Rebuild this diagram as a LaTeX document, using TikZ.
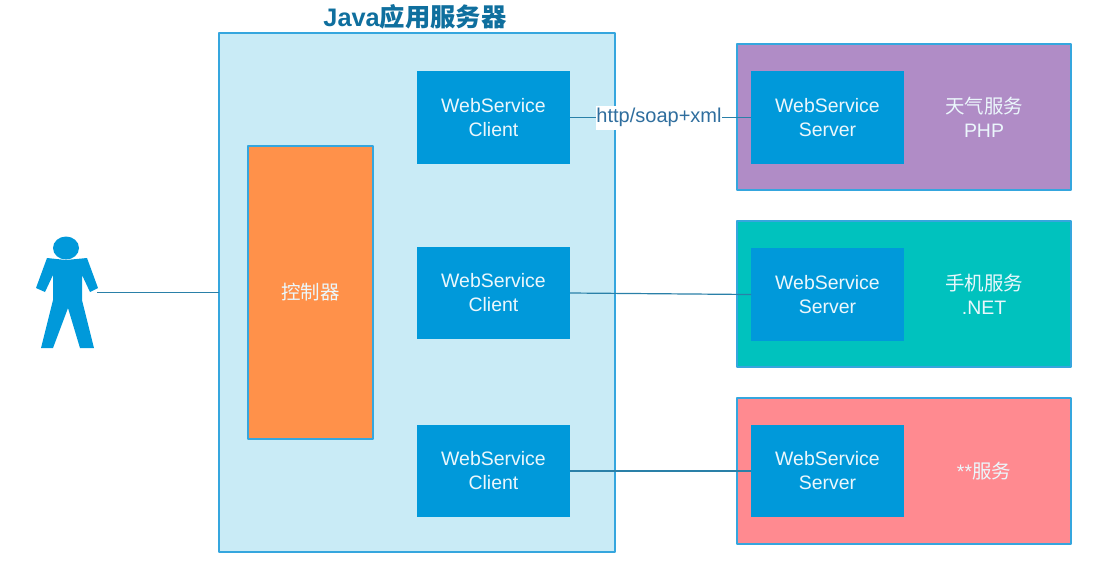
\documentclass[tikz,border=0pt]{standalone}
\usepackage{fontspec}
\setmainfont{Liberation Sans}
\newfontfamily\cjk{Noto Sans CJK SC}
\definecolor{linecol}{HTML}{2A80A8}
\definecolor{edgecol}{HTML}{35A6DE}
\definecolor{bluecol}{HTML}{0099DA}
\definecolor{palecol}{HTML}{C9EBF6}
\definecolor{orangecol}{HTML}{FF914A}
\definecolor{purplecol}{HTML}{B08CC6}
\definecolor{tealcol}{HTML}{00C2BE}
\definecolor{pinkcol}{HTML}{FF8A90}
\definecolor{titlecol}{HTML}{0F6F9E}
\definecolor{labelcol}{HTML}{2F6E9E}
\tikzset{
  base/.style={outer sep=0pt, inner sep=0pt, align=center, text=white!92!bluecol,
    font=\fontsize{14.6}{18}\selectfont},
  wsbox/.style={base, fill=bluecol, minimum width=114.75pt, minimum height=69.5pt},
  servicebox/.style={base, draw=edgecol, line width=0.9pt, minimum width=250.5pt, minimum height=109.5pt},
  link/.style={draw=linecol, line width=0.9pt}
}
\begin{document}
\begin{tikzpicture}[x=0.75pt, y=-0.75pt, line join=round]
\useasboundingbox (0,0) rectangle (1095,569);
% java server
\node[base, draw=edgecol, line width=0.9pt, fill=palecol, minimum width=297pt, minimum height=389.25pt] (java) at (417,292.5) {};
\node[font=\fontsize{19}{22}\selectfont\bfseries, text=titlecol, inner sep=0pt] (javatitle) at (415,17) {Java{\cjk 应用服务器}};
\node[base, draw=edgecol, line width=0.9pt, fill=orangecol, minimum width=93.75pt, minimum height=219.75pt] (ctrl) at (310.5,292.5) {\cjk 控制器};
% services
\node[servicebox, fill=purplecol] (svc1) at (904,117) {};
\node[servicebox, fill=tealcol] (svc2) at (904,294) {};
\node[servicebox, fill=pinkcol] (svc3) at (904,471) {};
\node[base] (svctext1) at (984,117) {{\cjk 天气服务}\\PHP};
\node[base] (svctext2) at (984,294) {{\cjk 手机服务}\\.NET};
\node[base] (svctext3) at (984,471) {**{\cjk 服务}};
% client and server boxes
\foreach \i/\yl/\yr in {1/117.5/117.5,2/293/294.5,3/471/471}{
  \node[wsbox] (client\i) at (493.5,\yl) {WebService\\Client};
  \node[wsbox] (server\i) at (827.5,\yr) {WebService\\Server};
}
% person
\fill[bluecol] (66,248) ellipse (13 and 11.5);
\fill[bluecol] (47,258)--(66,260)--(87,258)--(98,288)--(90,292)--(82,275)--(82,300)--(94,348)--(80,348)
  --(68,308)--(53,348)--(41,348)--(53,300)--(53,275)--(45,292)--(36,288)--cycle;
\coordinate (hand) at (97,292.5);
% connectors
\node[fill=white, text=labelcol, font=\fontsize{15}{18}\selectfont, inner sep=0pt, minimum width=94.5pt, minimum height=18pt] (soap) at (659,117.5) {http/soap+xml};
\draw[link] (hand)--(java.west);
\draw[link] (client1.east)--(soap.west) (soap.east)--(server1.west);
\draw[link] (client2.east)--(server2.west);
\draw[link] (client3.east)--(server3.west);
\end{tikzpicture}
\end{document}
